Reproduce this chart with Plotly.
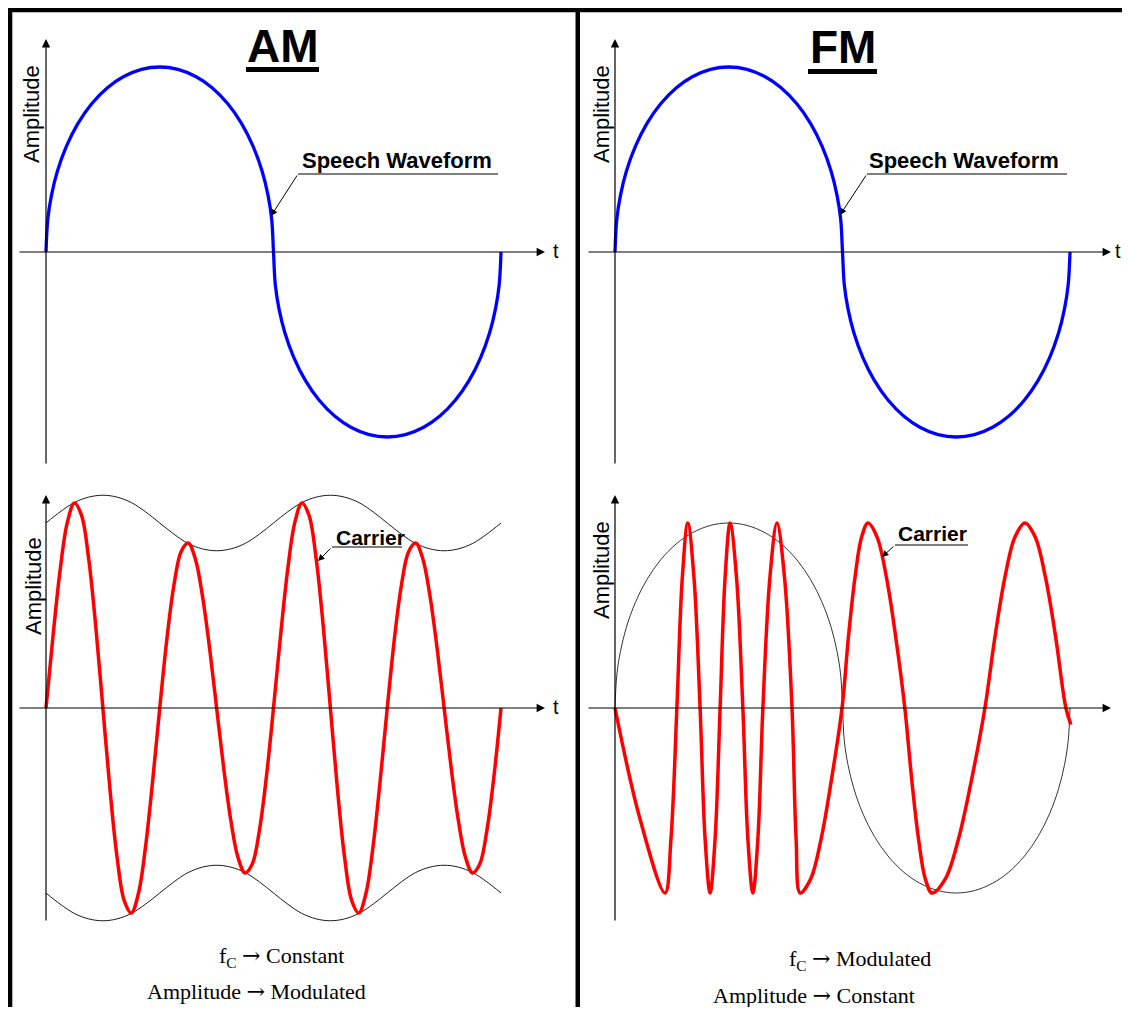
import plotly.graph_objects as go

# the page body adds an 8px margin on every side, so the figure is laid out smaller
OFF = 8
W, H = 1130 - OFF, 1015 - 2 * OFF
SX, SY = 455, 185  # pixels per time unit / per amplitude unit

# speech (modulating) waveform, one cycle, time 0..1
speech_t = [0, .004, .012, .025, .045, .07, .1, .135, .17, .21, .25, .29, .33, .365, .4, .43, .455,
            .475, .488, .496, .5, .504, .512, .525, .545, .57, .6, .635, .67, .71, .75, .79, .83,
            .865, .9, .93, .955, .975, .988, .996, 1.0]
speech_amp = [0, .178, .306, .436, .572, .694, .8, .888, .947, .987, 1, .987, .947, .888, .8, .694,
              .572, .436, .306, .178, 0, -.178, -.306, -.436, -.572, -.694, -.8, -.888, -.947,
              -.987, -1, -.987, -.947, -.888, -.8, -.694, -.572, -.436, -.306, -.178, 0]

# AM carrier
am_t = [0, .0156, .0312, .0469, .0625, .0781, .0938, .1094, .125, .1406, .1562, .1719, .1875,
        .2031, .2188, .2344, .25, .2656, .2812, .2969, .3125, .3281, .3438, .3594, .375, .3906,
        .4062, .4219, .4375, .4531, .4688, .4844, .5, .5156, .5312, .5469, .5625, .5781, .5938,
        .6094, .625, .6406, .6562, .6719, .6875, .7031, .7188, .7344, .75, .7656, .7812, .7969,
        .8125, .8281, .8438, .8594, .875, .8906, .9062, .9219, .9375, .9531, .9688, .9844, 1.0]
am_carrier = [0, .394, .749, 1.003, 1.108, 1.041, .807, .44, 0, -.44, -.807, -1.041, -1.108,
              -1.003, -.749, -.394, 0, .372, .665, .845, .892, .807, .607, .326, 0, -.326, -.607,
              -.807, -.892, -.845, -.665, -.372,
              0, .394, .749, 1.003, 1.108, 1.041, .807, .44, 0, -.44, -.807, -1.041, -1.108,
              -1.003, -.749, -.394, 0, .372, .665, .845, .892, .807, .607, .326, 0, -.326, -.607,
              -.807, -.892, -.845, -.665, -.372, 0]

# AM envelope
env_t = [0, .031, .062, .094, .125, .156, .188, .219, .25, .281, .312, .344, .375, .406, .438,
         .469, .5, .531, .562, .594, .625, .656, .688, .719, .75, .781, .812, .844, .875, .906,
         .938, .969, 1.0]
am_envelope = [1, 1.06, 1.11, 1.14, 1.15, 1.14, 1.11, 1.06, 1, .94, .89, .86, .85, .86, .89, .94, 1,
               1.06, 1.11, 1.14, 1.15, 1.14, 1.11, 1.06, 1, .94, .89, .86, .85, .86, .89, .94, 1]

# FM carrier (constant amplitude, varying frequency)
fm_t = [0, .055, .11, .123, .136, .148, .16, .1735, .187, .198, .209, .22, .231, .242, .253, .267,
        .281, .292, .303, .314, .325, .3405, .356, .3725, .389, .398, .407, .43, .453, .476, .499,
        .513, .5275, .542, .556, .576, .5965, .617, .637, .652, .667, .682, .697, .726, .755, .784,
        .813, .835, .857, .879, .901, .9235, .946, .9685, .991, 1.002]
fm_carrier = [0, -.6, -1, -.707, 0, .707, 1, .707, 0, -.707, -1, -.707, 0, .707, 1, .707,
              0, -.707, -1, -.707, 0, .707, 1, .707, 0, -.707, -1, -.924, -.707, -.383, 0,
              .383, .707, .924, 1, .924, .707, .383, 0, -.383, -.707, -.924, -1, -.924, -.707, -.383,
              0, .383, .707, .924, 1, .924, .707, .383, 0, -.09]

BLUE = '#0000ff'
RED = '#ff0000'
SANS = 'Liberation Sans, Arial, sans-serif'
SERIF = 'Liberation Serif, Times New Roman, serif'
ARROW = '<span style="font-family:DejaVu Serif">\u2192</span>'


def px(x, y):
    # screen pixel position -> paper coordinates
    return (x - OFF) / W, 1 - (y - OFF) / H


def make_axes(ox, oy, xpx, ypx):
    # invisible axes whose origin sits at screen pixel (ox, oy)
    x0, _ = px(xpx[0], 0)
    x1, _ = px(xpx[1], 0)
    _, y1 = px(0, ypx[0])
    _, y0 = px(0, ypx[1])
    xa = dict(domain=[x0, x1], range=[(xpx[0] - ox) / SX, (xpx[1] - ox) / SX],
              visible=False, fixedrange=True)
    ya = dict(domain=[y0, y1], range=[(oy - ypx[1]) / SY, (oy - ypx[0]) / SY],
              visible=False, fixedrange=True)
    return xa, ya


fig = go.Figure()

panels = {
    1: make_axes(46, 252, (14, 574), (14, 476)),     # AM speech
    2: make_axes(615, 252, (582, 1130), (14, 476)),  # FM speech
    3: make_axes(46, 708, (14, 574), (478, 940)),    # AM carrier
    4: make_axes(615, 708, (582, 1130), (478, 940)), # FM carrier
}
layout_axes = {}
for n, (xa, ya) in panels.items():
    sfx = '' if n == 1 else str(n)
    xa['anchor'] = 'y' + sfx
    ya['anchor'] = 'x' + sfx
    layout_axes['xaxis' + sfx] = xa
    layout_axes['yaxis' + sfx] = ya


def add_line(n, x, y, color, width):
    sfx = '' if n == 1 else str(n)
    fig.add_trace(go.Scatter(
        x=x, y=y, mode='lines', xaxis='x' + sfx, yaxis='y' + sfx,
        line=dict(color=color, width=width, shape='spline', smoothing=1),
        hoverinfo='skip', showlegend=False,
    ))


# speech waveforms
add_line(1, speech_t, speech_amp, BLUE, 3.3)
add_line(2, speech_t, speech_amp, BLUE, 3.3)

# AM: envelope then carrier
add_line(3, env_t, am_envelope, 'black', 0.9)
add_line(3, env_t, [-v for v in am_envelope], 'black', 0.9)
add_line(3, am_t, am_carrier, RED, 3.5)

# FM: speech outline then carrier
add_line(4, speech_t, speech_amp, 'black', 0.8)
add_line(4, fm_t, fm_carrier, RED, 3.5)

annotations = []
shapes = []


def arrow(tail, tip, width=1.2, size=1.4):
    x, y = px(*tip)
    annotations.append(dict(
        x=x, y=y, xref='paper', yref='paper', text='', showarrow=True,
        ax=tail[0] - tip[0], ay=tail[1] - tip[1], axref='pixel', ayref='pixel',
        arrowhead=2, arrowsize=size, arrowwidth=width, arrowcolor='black', standoff=0,
    ))


def label(text, x, y, size, family=SANS, angle=0, bold=False):
    xx, yy = px(x, y)
    if bold:
        text = '<b>' + text + '</b>'
    annotations.append(dict(
        x=xx, y=yy, xref='paper', yref='paper', text=text, showarrow=False,
        textangle=angle, xanchor='center', yanchor='middle',
        font=dict(family=family, size=size, color='black'),
    ))


def rect(x0, y0, x1, y1):
    a, b = px(x0, y0)
    c, d = px(x1, y1)
    shapes.append(dict(type='rect', xref='paper', yref='paper', x0=a, y0=d, x1=c, y1=b,
                       fillcolor='black', line=dict(width=0)))


def hline(x0, x1, y, width=1):
    a, b = px(x0, y)
    c, _ = px(x1, y)
    shapes.append(dict(type='line', xref='paper', yref='paper', x0=a, y0=b, x1=c, y1=b,
                       line=dict(color='black', width=width)))


# frame
rect(8, 8, 1130, 12.3)
rect(8, 8, 12.3, 1015)
rect(575.5, 8, 580, 1015)

# axes with arrow heads
arrow((18, 252), (545, 252))
arrow((46, 465), (46, 39))
arrow((587, 252), (1111, 252))
arrow((615, 465), (615, 39))
arrow((18, 708), (545, 708))
arrow((46, 922), (46, 495))
arrow((587, 708), (1111, 708))
arrow((615, 922), (615, 495))

label('t', 556, 251, 20)
label('t', 1118, 251, 20)
label('t', 556, 707, 20)

label('Amplitude', 31, 114, 22, angle=-90)
label('Amplitude', 601, 114, 22, angle=-90)
label('Amplitude', 33, 586, 22, angle=-90)
label('Amplitude', 601, 570, 22, angle=-90)

# titles
label('AM', 283, 46, 46, bold=True)
rect(246, 67, 319, 72)
label('FM', 843, 47, 46, bold=True)
rect(808, 69, 877, 74)

# speech waveform callouts
label('Speech Waveform', 397, 160, 22, bold=True)
hline(298, 498, 174)
arrow((298, 174), (271, 216), width=1, size=1.3)
label('Speech Waveform', 964, 160, 22, bold=True)
hline(867, 1067, 174)
arrow((867, 174), (840, 215), width=1, size=1.3)

# carrier callouts
label('Carrier', 370, 537, 21, bold=True)
hline(332, 402, 547)
arrow((332, 547), (318, 561), width=1, size=1.3)
label('Carrier', 932, 533, 21, bold=True)
hline(895, 968, 545)
arrow((895, 545), (882, 557), width=1, size=1.3)

# bottom notes
label('f<sub>C</sub> ' + ARROW + ' Constant', 281, 957, 22, family=SERIF)
label('Amplitude ' + ARROW + ' Modulated', 256, 991, 22, family=SERIF)
label('f<sub>C</sub> ' + ARROW + ' Modulated', 860, 960, 22, family=SERIF)
label('Amplitude ' + ARROW + ' Constant', 814, 995, 22, family=SERIF)

fig.update_layout(
    width=W, height=H,
    margin=dict(l=0, r=0, t=0, b=0),
    paper_bgcolor='white', plot_bgcolor='white',
    showlegend=False,
    annotations=annotations,
    shapes=shapes,
    **layout_axes,
)

fig.write_html("out.html")
